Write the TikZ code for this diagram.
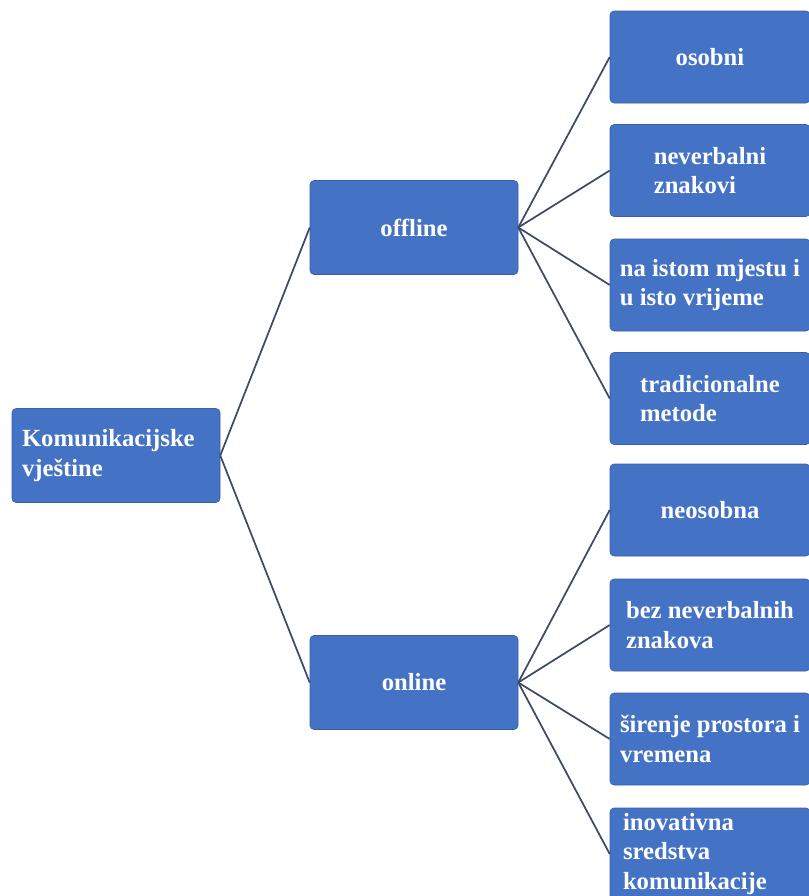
\documentclass[tikz,border=0pt]{standalone}
\usepackage{fontspec}
\setmainfont{Liberation Serif}
\definecolor{boxblue}{RGB}{68,114,196}
\definecolor{boxedge}{RGB}{55,95,170}
\definecolor{linkgray}{RGB}{62,74,104}
\tikzset{
  box/.style={draw=boxedge, fill=boxblue, rounded corners=3pt, text=white,
    font=\fontsize{18.5}{22}\selectfont\bfseries, align=left,
    minimum width=156pt, minimum height=70.5pt, inner sep=0pt},
  leaf/.style={box, minimum width=150pt, minimum height=69pt},
  link/.style={draw=linkgray, line width=1.3pt}
}
\begin{document}
\begin{tikzpicture}[x=0.75pt,y=-0.75pt]
\useasboundingbox (0,0) rectangle (809,896);
\clip (0,0) rectangle (809,896);
\fill[white] (0,0) rectangle (809,896);
% root and the two branches
\node[box, text width=141pt] (root) at (116,455.5) {Komunikacijske\\vještine};
\node[box] (offline) at (414,227.5) {offline};
\node[box] (online) at (414,682.5) {online};
% offline leaves
\node[leaf] (osobni) at (710,57) {osobni};
\node[leaf] (neverbalni) at (710,170.5) {neverbalni\\znakovi};
\node[leaf] (mjesto) at (710,285) {na istom mjestu i\\u isto vrijeme};
\node[leaf] (tradicionalne) at (710,398.5) {tradicionalne\\metode};
% online leaves
\node[leaf] (neosobna) at (710,510) {neosobna};
\node[leaf] (bezneverbalnih) at (710,625) {bez neverbalnih\\znakova};
\node[leaf] (sirenje) at (710,739) {širenje prostora i\\vremena};
\node[leaf, text width=130.5pt] (inovativna) at (710,854) {inovativna\\sredstva\\komunikacije};
% connectors
\draw[link] (root.east) -- (offline.west);
\draw[link] (root.east) -- (online.west);
\foreach \leaf in {osobni,neverbalni,mjesto,tradicionalne}
  \draw[link] (offline.east) -- (\leaf.west);
\foreach \leaf in {neosobna,bezneverbalnih,sirenje,inovativna}
  \draw[link] (online.east) -- (\leaf.west);
\end{tikzpicture}
\end{document}
